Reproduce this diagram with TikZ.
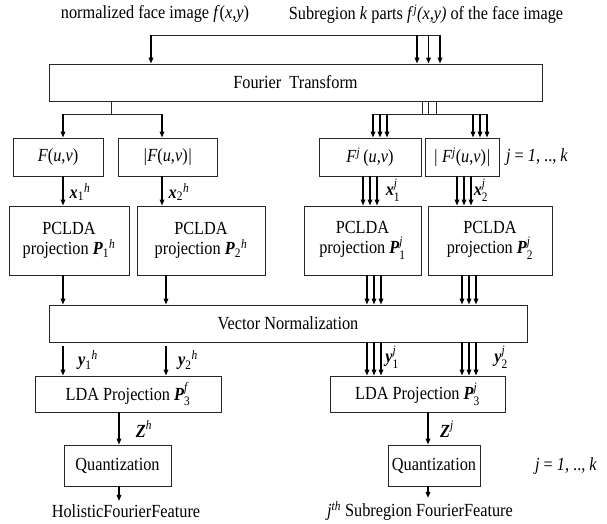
\documentclass[tikz,border=0pt]{standalone}
\usepackage{amsmath}
\usepackage{fontspec}
\setmainfont{Liberation Serif}[FakeStretch=0.88]
\usepackage{tikz}
\usetikzlibrary{positioning,arrows.meta,calc}

\newcommand{\bv}[1]{\textbf{\textit{#1}}}
\newcommand{\iv}[1]{\textit{#1}}

\begin{document}
\begin{tikzpicture}[
    x=1pt, y=-1pt,
    font=\fontsize{18.5}{20}\selectfont,
    box/.style  = {draw=black!85, line width=0.9pt, align=center, inner sep=0pt},
    ar/.style   = {-{Triangle[length=6pt,width=4.6pt]}, line width=1.3pt},
    ln/.style   = {draw=black!85, line width=0.9pt},
    lbl/.style  = {inner sep=1pt},
]
\useasboundingbox (0,0) rectangle (607,523);

% ---------------- inputs ----------------
\node (whole) at (155,14) {normalized face image \iv{f}(\iv{x},\iv{y})};
\node (parts) at (426,14) {Subregion \iv{k} parts \iv{f}\textsuperscript{\iv{j}}\iv{(x,y)} of the face image};

% ---------------- Fourier transform ----------------
\node[box, minimum width=493pt, minimum height=37pt] (ft) at (295.5,82.5) {Fourier\ \ Transform};

\coordinate (tl) at (151,35);
\coordinate (ta) at (417,35);
\draw[ln] (tl) -- ($(ta)+(23,0)$);
\draw[ar] (tl) -- (tl |- ft.north);
\foreach \d in {0,11.5,23}
    \draw[ar] ($(ta)+(\d,0)$) -- ($(ta |- ft.north)+(\d,0)$);

% ---------------- spectra ----------------
\node[box, minimum width=90pt,  minimum height=38pt] (f1) at (58,157)    {\iv{F}(\iv{u},\iv{v})};
\node[box, minimum width=99pt,  minimum height=38pt] (f2) at (167.5,157) {\iv{|F}(\iv{u},\iv{v})\iv{|}};
\node[box, minimum width=102pt, minimum height=38pt] (f3) at (370,157)   {\iv{F}\textsuperscript{\iv{j}}\,(\iv{u},\iv{v})};
\node[box, minimum width=74pt,  minimum height=38pt] (f4) at (462,157)   {\iv{|\ F}\textsuperscript{\iv{j}}(\iv{u},\iv{v})\iv{|}};
\node[lbl] (jr1) at (537,157) {\iv{j} = \iv{1}, .., \iv{k}};

% split below the transform
\coordinate (bl) at (111,114);
\coordinate (cA) at (63,114);
\coordinate (cB) at (162,114);
\draw[ln] (ft.south -| bl) -- (bl);
\draw[ln] (cA) -- (cB);
\draw[ar] (cA) -- (cA |- f1.north);
\draw[ar] (cB) -- (cB |- f2.north);

\coordinate (tb) at (422,114);
\coordinate (ua) at (373,114);
\coordinate (ub) at (473,114);
\foreach \d in {0,6,14}
    \draw[ln] ($(tb |- ft.south)+(\d,0)$) -- ($(tb)+(\d,0)$);
\draw[ln] (ua) -- ($(ub)+(14,0)$);
\foreach \d in {0,7,14} {
    \draw[ar] ($(ua)+(\d,0)$) -- ($(ua |- f3.north)+(\d,0)$);
    \draw[ar] ($(ub)+(\d,0)$) -- ($(ub |- f4.north)+(\d,0)$);
}

% ---------------- PCLDA ----------------
\node[box, minimum width=120pt, minimum height=69pt] (p1) at (69,240.5)
    {PCLDA\\projection $\bv{P}_{\textrm{1}}{}^{\iv{h}}$};
\node[box, minimum width=128pt, minimum height=69pt] (p2) at (201,240.5)
    {PCLDA\\projection $\bv{P}_{\textrm{2}}{}^{\iv{h}}$};
\node[box, minimum width=117pt, minimum height=69pt] (p3) at (362.5,240.5)
    {PCLDA\\projection $\bv{P}_{\textrm{1}}^{\iv{j}}$};
\node[box, minimum width=124pt, minimum height=69pt] (p4) at (490,240.5)
    {PCLDA\\projection $\bv{P}_{\textrm{2}}^{\iv{j}}$};

\draw[ar] (f1.south -| cA) -- (p1.north -| cA);
\draw[ar] (f2.south -| cB) -- (p2.north -| cB);
\coordinate (va) at (363,0);
\coordinate (vb) at (457,0);
\foreach \d in {0,7,14} {
    \draw[ar] ($(f3.south -| va)+(\d,0)$) -- ($(p3.north -| va)+(\d,0)$);
    \draw[ar] ($(f4.south -| vb)+(\d,0)$) -- ($(p4.north -| vb)+(\d,0)$);
}
\node[lbl] (x1h) at (80,192)  {$\bv{x}_{\textrm{1}}{}^{\iv{h}}$};
\node[lbl] (x2h) at (179,192) {$\bv{x}_{\textrm{2}}{}^{\iv{h}}$};
\node[lbl] (x1j) at (393,190) {$\bv{x}_{\textrm{1}}^{\iv{j}}$};
\node[lbl] (x2j) at (481,190) {$\bv{x}_{\textrm{2}}^{\iv{j}}$};

% ---------------- normalization ----------------
\node[box, minimum width=478pt, minimum height=37pt] (vn) at (288,323.5) {Vector Normalization};

\coordinate (cD) at (166,0);
\coordinate (wa) at (367,0);
\coordinate (wb) at (462,0);
\draw[ar] (p1.south -| cA) -- (vn.north -| cA);
\draw[ar] (p2.south -| cD) -- (vn.north -| cD);
\foreach \d in {0,7,14} {
    \draw[ar] ($(p3.south -| wa)+(\d,0)$) -- ($(vn.north -| wa)+(\d,0)$);
    \draw[ar] ($(p4.south -| wb)+(\d,0)$) -- ($(vn.north -| wb)+(\d,0)$);
}

% ---------------- LDA ----------------
\node[box, minimum width=186pt, minimum height=36pt] (l1) at (128,394)
    {LDA Projection $\bv{P}_{\textrm{3}}^{\iv{f}}$};
\node[box, minimum width=175pt, minimum height=36pt] (l2) at (417.5,394)
    {LDA Projection $\bv{P}_{\textrm{3}}^{\iv{j}}$};

\draw[ar, shorten <=4pt] (vn.south -| cA) -- (l1.north -| cA);
\draw[ar, shorten <=4pt] (vn.south -| cD) -- (l1.north -| cD);
\foreach \d in {0,7,14} {
    \draw[ar] ($(vn.south -| wa)+(\d,0)$) -- ($(l2.north -| wa)+(\d,0)$);
    \draw[ar] ($(vn.south -| wb)+(\d,0)$) -- ($(l2.north -| wb)+(\d,0)$);
}
\node[lbl] (y1h) at (88,360)  {$\bv{y}_{\textrm{1}}{}^{\iv{h}}$};
\node[lbl] (y2h) at (188,360) {$\bv{y}_{\textrm{2}}{}^{\iv{h}}$};
\node[lbl] (y1j) at (392,357) {$\bv{y}_{\textrm{1}}^{\iv{j}}$};
\node[lbl] (y2j) at (501,357) {$\bv{y}_{\textrm{2}}^{\iv{j}}$};

% ---------------- quantization ----------------
\node[box, minimum width=107pt, minimum height=41pt] (q1) at (117.5,465.5) {Quantization};
\node[box, minimum width=92pt,  minimum height=41pt] (q2) at (434,465.5)   {Quantization};
\node[lbl] (jr2) at (566,466) {\iv{j} = \iv{1}, .., \iv{k}};

\coordinate (cZ) at (119,0);
\coordinate (cY) at (428,0);
\draw[ar] (l1.south -| cZ) -- (q1.north -| cZ);
\draw[ar] (l2.south -| cY) -- (q2.north -| cY);
\node[lbl] (zh) at (144,429) {$\bv{Z}^{\iv{h}}$};
\node[lbl] (zj) at (447,429) {$\bv{Z}^{\iv{j}}$};

% ---------------- outputs ----------------
\node (hol) at (126,511) {HolisticFourierFeature};
\node (sub) at (420,511) {\iv{j}\textsuperscript{\iv{th}} Subregion FourierFeature};
\draw[ar] (q1.south -| cZ) -- (hol.north -| cZ);
\draw[ar] (q2.south -| cY) -- (sub.north -| cY);

\end{tikzpicture}
\end{document}
